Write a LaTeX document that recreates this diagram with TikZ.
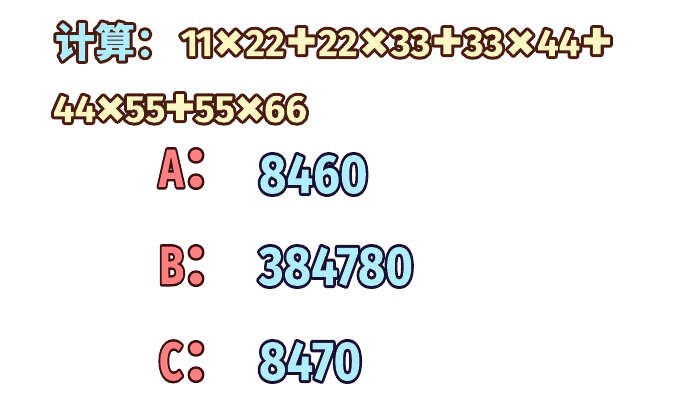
\documentclass[tikz,border=0pt]{standalone}
\usepackage{fontspec}
\setmainfont{Fira Sans}
\IfFontExistsTF{FiraSans-Heavy.otf}{\newfontfamily\heavy{FiraSans-Heavy.otf}}{%
  \IfFontExistsTF{FiraSans-ExtraBold.otf}{\newfontfamily\heavy{FiraSans-ExtraBold.otf}}{%
    \newfontfamily\heavyfam{Fira Sans}\def\heavy{\heavyfam\bfseries}}}
\IfFontExistsTF{Noto Sans CJK SC Black}{\newfontfamily\cjk{Noto Sans CJK SC Black}}{%
  \newfontfamily\cjkfam{Noto Sans CJK SC}\def\cjk{\cjkfam\bfseries}}
% outlined text, outline only outside the glyphs:
% #1 fill "r g b", #2 stroke "r g b", #3 stroke width (twice the visible outline), #4 text
\newcommand\outl[4]{%
  \special{pdf:bcontent}\special{pdf:literal 5 Tr 1 j 1 J #3 w #2 RG}%
  #4%
  \special{pdf:bcontent}\special{pdf:econtent}%
  \special{pdf:literal 0 Tr #1 rg -3000 -3000 6000 6000 re f}\special{pdf:econtent}}
\newcommand\opx[2][33.5pt]{\makebox[#1]{\raisebox{-5pt}{\fontsize{60}{60}\selectfont #2}}}
\newcommand\one{\makebox[15pt]{1}}
\def\cBrown{0.29 0.11 0.06}
\def\cYellow{1 0.969 0.765}
\def\cBlue{0.69 0.933 1}
\def\cRed{1 0.5 0.5}
\def\cDark{0.23 0.06 0.06}
\def\cNavy{0.1 0.06 0.2}
\tikzset{
  lbl/.style={anchor=base west, inner sep=0pt, outer sep=0pt},
  letter/.style={lbl, xscale=0.76, transform shape},
  answer/.style={lbl, xscale=0.86, transform shape},
}
\begin{document}
\begin{tikzpicture}[x=1pt,y=-1pt]
\useasboundingbox (0,0) rectangle (700,400);
\node[lbl] (title) at (55,57) {\fontsize{40}{40}\selectfont\cjk\outl{\cBlue}{\cBrown}{6}{计算：}};
\node[lbl] (expr1) at (182,56) {\fontsize{38}{38}\selectfont\heavy\outl{\cYellow}{\cBrown}{6}{\one\one\opx{×}22\opx{+}22\opx{×}33\opx{+}33\opx{×}44\opx{+}}};
\node[lbl] (expr2) at (53,122) {\fontsize{38}{38}\selectfont\heavy\outl{\cYellow}{\cBrown}{6}{44\opx[29pt]{×}55\opx[29pt]{+}55\opx[29pt]{×}66}};
\node[letter] (la) at (159,187) {\fontsize{54}{54}\selectfont\heavy\outl{\cRed}{\cDark}{5}{A}};
\node[letter] (lb) at (159,284) {\fontsize{54}{54}\selectfont\heavy\outl{\cRed}{\cDark}{5}{B}};
\node[letter] (lc) at (159,380) {\fontsize{54}{54}\selectfont\heavy\outl{\cRed}{\cDark}{5}{C}};
\node[lbl] (ca) at (182,187) {\fontsize{56}{56}\selectfont\cjk\outl{\cRed}{\cDark}{5}{：}};
\node[lbl] (cb) at (182,284) {\fontsize{56}{56}\selectfont\cjk\outl{\cRed}{\cDark}{5}{：}};
\node[lbl] (cc) at (182,380) {\fontsize{56}{56}\selectfont\cjk\outl{\cRed}{\cDark}{5}{：}};
\node[answer] (va) at (259,193) {\fontsize{55}{55}\selectfont\heavy\outl{\cBlue}{\cNavy}{6}{8460}};
\node[answer] (vb) at (259,285) {\fontsize{55}{55}\selectfont\heavy\outl{\cBlue}{\cNavy}{6}{384780}};
\node[answer] (vc) at (259,380) {\fontsize{55}{55}\selectfont\heavy\outl{\cBlue}{\cNavy}{6}{8470}};
\end{tikzpicture}
\end{document}
